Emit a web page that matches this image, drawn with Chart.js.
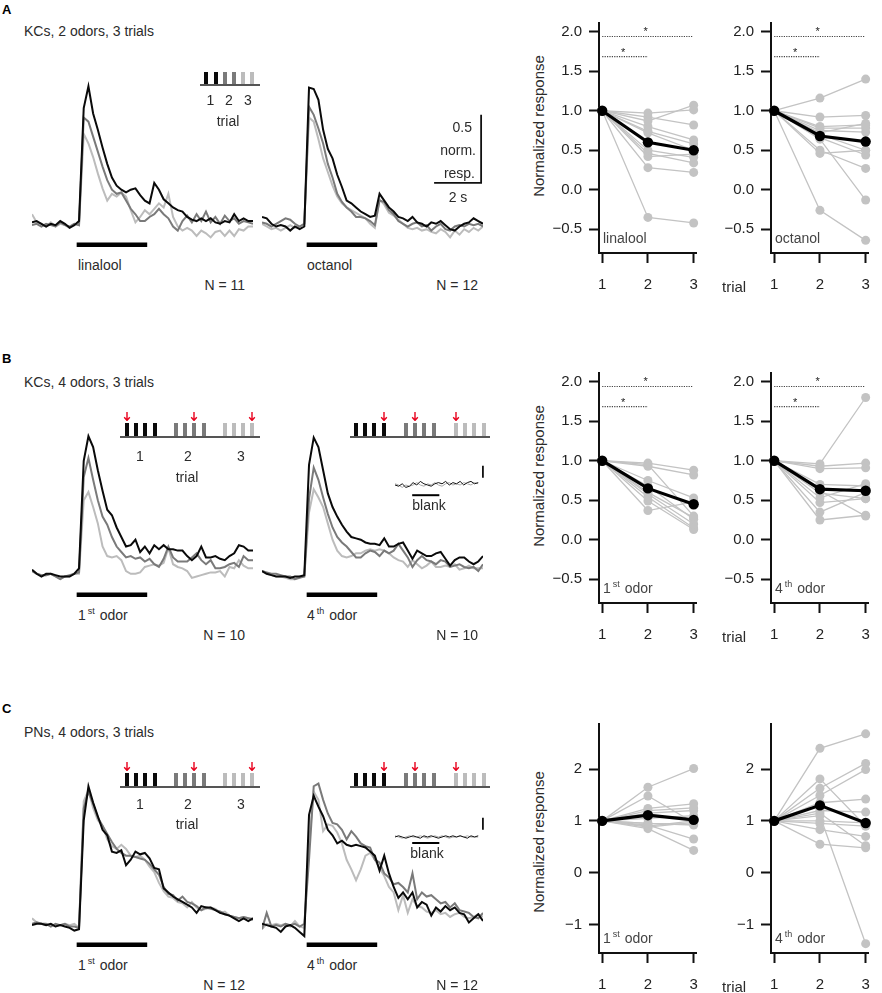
<!DOCTYPE html>
<html>
<head>
<meta charset="utf-8">
<script src="https://cdn.jsdelivr.net/npm/chart.js@4.4.0/dist/chart.umd.min.js"></script>
<style>
  body { margin: 0; background: #fff; }
  #fig { position: relative; width: 882px; height: 993px; overflow: hidden;
         font-family: "Liberation Sans", Arial, sans-serif; color: #2b2b2b; }
  #fig canvas { position: absolute; }
  .t { position: absolute; white-space: nowrap; font-size: 14px; line-height: 1; }
  .t sup { font-size: 9px; vertical-align: 6px; line-height: 0; margin-left: 2px; margin-right: 1px; }
  .bar { position: absolute; }
</style>
</head>
<body>
<div id="fig"></div>
<script>
// time axis of the traces
const timeStep = 0.2; // s per sample
const traceEnd = 9.4;
const odorOn = 1.9;
const odorOff = 4.9;
const insetStep = 0.4;

const trialTicks = [1, 2, 3];
const trialLabels = ["1", "2", "3"];
const yTicksKC = [-0.5, 0, 0.5, 1, 1.5, 2];
const yTicksPN = [-1, 0, 1, 2];
const trial1Value = 1;

// A  KCs, 2 odors, 3 trials (mean traces, trial 1 / 2 / 3)
const linaloolTrial1 = [0.01, 0.02, 0.00, -0.02, 0.00, -0.01, 0.02, 0.00, -0.03, -0.01,
  0.02, 0.85, 1.01, 0.81, 0.69, 0.56, 0.44, 0.34, 0.28, 0.25,
  0.23, 0.25, 0.26, 0.21, 0.17, 0.15, 0.30, 0.25, 0.18, 0.15,
  0.12, 0.10, 0.09, 0.05, 0.03, 0.02, 0.04, 0.02, 0.04, 0.01,
  0.00, 0.02, 0.01, 0.07, 0.02, 0.04, 0.02, 0.02];
const linaloolTrial2 = [-0.01, 0.00, -0.02, 0.00, -0.01, -0.02, 0.01, -0.01, -0.02, 0.00,
  -0.01, 0.78, 0.75, 0.64, 0.53, 0.42, 0.32, 0.25, 0.22, 0.23,
  0.17, 0.11, 0.07, 0.02, 0.02, 0.05, 0.07, 0.11, 0.07, 0.04,
  -0.02, -0.05, 0.02, 0.06, 0.01, 0.07, 0.02, 0.09, 0.01, 0.05,
  0.00, 0.06, 0.02, 0.04, 0.00, 0.02, 0.01, 0.00];
const linaloolTrial3 = [0.07, 0.01, 0.00, -0.02, 0.01, -0.02, 0.00, -0.01, -0.03, 0.00,
  -0.01, 0.66, 0.59, 0.49, 0.37, 0.26, 0.17, 0.22, 0.20, 0.23,
  0.20, 0.10, 0.01, 0.05, 0.10, 0.07, 0.11, 0.15, 0.12, 0.22,
  0.05, -0.02, -0.05, -0.03, -0.05, -0.09, -0.05, -0.07, -0.10, -0.06,
  -0.05, -0.09, -0.05, -0.09, -0.04, -0.05, -0.02, -0.02];
const octanolTrial1 = [0.05, 0.04, 0.00, -0.02, -0.01, -0.02, -0.05, -0.02, -0.04, -0.02,
  1.00, 0.99, 0.91, 0.69, 0.55, 0.48, 0.36, 0.27, 0.17, 0.15,
  0.12, 0.09, 0.07, 0.05, 0.06, 0.22, 0.17, 0.12, 0.09, 0.05,
  0.04, 0.02, 0.05, 0.01, 0.00, -0.02, 0.01, 0.00, 0.02, -0.01,
  -0.04, -0.05, -0.02, 0.00, 0.01, 0.04, 0.02, 0.00];
const octanolTrial2 = [0.01, 0.00, -0.02, 0.00, 0.02, 0.04, 0.03, 0.00, -0.02, 0.00,
  0.86, 0.80, 0.70, 0.59, 0.44, 0.34, 0.22, 0.16, 0.12, 0.09,
  0.05, 0.05, 0.04, 0.02, -0.01, 0.17, 0.16, 0.10, 0.07, 0.02,
  0.00, -0.02, 0.00, 0.01, -0.02, -0.01, -0.05, -0.02, 0.00, -0.04,
  -0.05, -0.02, -0.01, -0.02, 0.00, -0.01, 0.00, -0.02];
const octanolTrial3 = [0.00, -0.02, -0.04, -0.03, -0.05, -0.03, -0.01, -0.03, -0.02, 0.00,
  0.78, 0.75, 0.62, 0.48, 0.38, 0.28, 0.20, 0.15, 0.12, 0.10,
  0.08, 0.06, 0.04, 0.00, -0.03, 0.18, 0.14, 0.08, 0.06, 0.03,
  0.00, -0.03, -0.04, -0.03, -0.05, -0.04, -0.06, -0.07, -0.04, -0.06,
  -0.10, -0.05, -0.08, -0.04, -0.06, -0.03, -0.05, -0.02];

// B  KCs, 4 odors, 3 trials
const kcFirstTrial1 = [0.03, 0.00, -0.02, 0.00, 0.00, -0.01, -0.02, -0.02, -0.02, 0.00,
  0.04, 0.83, 1.01, 0.93, 0.76, 0.61, 0.47, 0.43, 0.34, 0.27,
  0.20, 0.21, 0.25, 0.16, 0.20, 0.15, 0.21, 0.18, 0.21, 0.18,
  0.18, 0.17, 0.17, 0.13, 0.10, 0.13, 0.20, 0.12, 0.12, 0.13,
  0.11, 0.10, 0.13, 0.15, 0.21, 0.20, 0.17, 0.17];
const kcFirstTrial2 = [0.02, 0.00, -0.01, -0.01, 0.00, -0.02, -0.04, -0.02, -0.01, 0.00,
  0.01, 0.71, 0.85, 0.69, 0.54, 0.42, 0.36, 0.27, 0.20, 0.16,
  0.12, 0.13, 0.11, 0.12, 0.09, 0.11, 0.07, 0.05, 0.11, 0.20,
  0.12, 0.09, 0.09, 0.09, 0.12, 0.15, 0.10, 0.07, 0.10, 0.04,
  0.04, 0.05, 0.07, 0.08, 0.05, 0.13, 0.10, 0.10];
const kcFirstTrial3 = [0.03, 0.00, -0.01, -0.01, 0.00, -0.02, -0.04, -0.02, -0.02, 0.00,
  0.00, 0.54, 0.60, 0.49, 0.37, 0.20, 0.13, 0.12, 0.13, 0.10,
  0.02, 0.00, 0.00, 0.01, 0.05, 0.06, 0.07, 0.06, 0.08, 0.19,
  0.07, 0.05, 0.04, 0.02, -0.03, -0.02, -0.01, 0.00, 0.01, 0.01,
  0.02, -0.02, 0.05, 0.04, 0.10, 0.06, 0.04, 0.04];
const kcFourthTrial1 = [0.02, 0.00, -0.01, -0.02, -0.02, -0.02, -0.03, -0.02, -0.02, -0.01,
  0.80, 1.00, 0.93, 0.76, 0.59, 0.49, 0.42, 0.36, 0.31, 0.27,
  0.26, 0.25, 0.23, 0.22, 0.22, 0.21, 0.26, 0.20, 0.20, 0.22,
  0.23, 0.17, 0.11, 0.17, 0.15, 0.13, 0.13, 0.15, 0.16, 0.11,
  0.06, 0.10, 0.12, 0.12, 0.09, 0.07, 0.09, 0.13];
const kcFourthTrial2 = [0.02, 0.01, 0.00, 0.00, -0.01, -0.02, -0.02, -0.04, -0.03, -0.02,
  0.55, 0.78, 0.69, 0.56, 0.44, 0.34, 0.27, 0.23, 0.20, 0.16,
  0.12, 0.12, 0.15, 0.17, 0.16, 0.13, 0.17, 0.15, 0.17, 0.22,
  0.17, 0.12, 0.05, 0.10, 0.13, 0.10, 0.09, 0.07, 0.10, 0.09,
  0.05, 0.06, 0.07, 0.05, 0.04, 0.05, 0.02, 0.07];
const kcFourthTrial3 = [0.02, 0.00, -0.01, -0.02, -0.02, -0.03, -0.04, -0.04, -0.02, -0.02,
  0.45, 0.62, 0.56, 0.49, 0.37, 0.25, 0.17, 0.13, 0.12, 0.13,
  0.15, 0.15, 0.17, 0.18, 0.17, 0.18, 0.17, 0.15, 0.12, 0.10,
  0.09, 0.05, 0.10, 0.07, 0.04, 0.06, 0.09, 0.05, 0.05, 0.06,
  0.05, 0.07, 0.03, 0.04, 0.06, 0.04, 0.04, 0.04];

// C  PNs, 4 odors, 3 trials
const pnFirstTrial1 = [-0.01, 0.00, 0.00, -0.01, 0.00, -0.02, -0.01, -0.02, -0.03, -0.05,
  -0.04, 0.76, 1.01, 0.89, 0.79, 0.69, 0.65, 0.53, 0.52, 0.54,
  0.43, 0.47, 0.53, 0.51, 0.52, 0.48, 0.41, 0.40, 0.26, 0.23,
  0.20, 0.18, 0.16, 0.14, 0.12, 0.08, 0.13, 0.12, 0.12, 0.10,
  0.08, 0.07, 0.06, 0.04, 0.02, 0.04, 0.02, 0.04];
const pnFirstTrial2 = [0.00, 0.01, 0.00, 0.00, -0.02, 0.00, -0.01, 0.00, -0.02, -0.02,
  -0.03, 0.85, 0.97, 0.88, 0.78, 0.72, 0.66, 0.60, 0.55, 0.52,
  0.50, 0.50, 0.49, 0.48, 0.47, 0.44, 0.40, 0.36, 0.27, 0.22,
  0.21, 0.17, 0.20, 0.16, 0.15, 0.13, 0.10, 0.12, 0.11, 0.10,
  0.09, 0.07, 0.06, 0.05, 0.04, 0.05, 0.04, 0.03];
const pnFirstTrial3 = [0.04, 0.01, 0.00, -0.01, 0.00, -0.02, -0.01, 0.00, -0.01, 0.00,
  -0.03, 0.90, 0.98, 0.85, 0.76, 0.72, 0.62, 0.57, 0.55, 0.58,
  0.55, 0.50, 0.49, 0.50, 0.47, 0.42, 0.38, 0.30, 0.24, 0.20,
  0.19, 0.16, 0.15, 0.12, 0.16, 0.12, 0.10, 0.11, 0.12, 0.11,
  0.08, 0.09, 0.06, 0.05, 0.04, 0.05, 0.04, 0.04];
const pnFourthTrial1 = [0.00, -0.01, -0.02, -0.03, -0.06, -0.02, -0.01, -0.03, -0.06, -0.09,
  0.80, 0.94, 0.86, 0.79, 0.69, 0.65, 0.59, 0.61, 0.58, 0.57,
  0.58, 0.57, 0.56, 0.53, 0.50, 0.39, 0.50, 0.37, 0.27, 0.19,
  0.23, 0.18, 0.23, 0.12, 0.16, 0.14, 0.06, 0.12, 0.09, 0.13,
  0.10, 0.12, 0.08, 0.07, 0.01, 0.04, 0.07, 0.02];
const pnFourthTrial2 = [-0.04, 0.08, -0.02, -0.01, -0.02, 0.00, -0.01, 0.00, -0.02, 0.00,
  0.47, 1.01, 1.03, 0.91, 0.81, 0.74, 0.73, 0.69, 0.62, 0.68,
  0.64, 0.59, 0.57, 0.56, 0.47, 0.45, 0.37, 0.34, 0.29, 0.30,
  0.27, 0.23, 0.37, 0.18, 0.23, 0.20, 0.21, 0.18, 0.15, 0.16,
  0.12, 0.15, 0.10, 0.09, 0.08, 0.05, 0.04, 0.08];
const pnFourthTrial3 = [-0.04, 0.00, -0.01, 0.00, -0.01, 0.00, -0.02, 0.02, -0.02, -0.03,
  0.60, 0.97, 0.91, 0.68, 0.73, 0.72, 0.67, 0.59, 0.47, 0.40,
  0.32, 0.40, 0.50, 0.52, 0.47, 0.41, 0.35, 0.27, 0.23, 0.10,
  0.21, 0.08, 0.18, 0.13, 0.12, 0.09, 0.08, 0.10, 0.07, 0.08,
  0.05, 0.07, 0.08, 0.05, 0.04, 0.05, 0.07, 0.05];

// blank (no odor) insets
const kcBlankA = [0.00, -0.01, 0.01, -0.02, -0.01, 0.02, 0.00, 0.03, 0.01, 0.00, -0.01, 0.01,
  0.02, 0.01, 0.03, 0.00, 0.02, 0.01, 0.03, 0.00, 0.02, 0.03, 0.01, 0.02];
const kcBlankB = [0.01, 0.00, -0.02, 0.00, -0.01, 0.00, 0.02, 0.00, -0.01, 0.01, 0.00, 0.02,
  0.00, -0.01, 0.01, 0.02, 0.00, 0.01, 0.00, 0.02, 0.01, 0.00, 0.02, 0.01];
const pnBlankA = [0.00, 0.01, 0.00, -0.01, 0.00, 0.01, 0.00, -0.01, 0.01, 0.00, 0.01, 0.00,
  -0.01, 0.00, 0.01, 0.00, 0.01, 0.00, 0.01, 0.00, -0.01, 0.01, 0.00, 0.01];
const pnBlankB = [0.01, 0.00, -0.01, 0.00, 0.01, 0.00, 0.00, 0.01, 0.00, -0.01, 0.00, 0.01,
  0.00, 0.01, 0.00, -0.01, 0.00, 0.00, 0.01, 0.00, 0.01, 0.00, 0.00, 0.00];

// normalized response per fly, trials 2 and 3 (trial 1 = 1)
const linaloolResp2 = [0.97, 0.87, 0.92, 0.80, 0.74, 0.72, 0.50, 0.46, 0.42, 0.28, -0.35];
const linaloolResp3 = [1.01, 1.07, 0.82, 0.63, 0.58, 0.50, 0.41, 0.34, 0.45, 0.22, -0.42];
const linaloolMean = [1, 0.60, 0.50];
const octanolResp2 = [1.16, 0.92, 0.80, 0.78, 0.75, 0.72, 0.70, 0.66, 0.64, 0.50, 0.46, -0.26];
const octanolResp3 = [1.40, 0.94, 0.82, 0.78, 0.73, 0.84, 0.50, 0.44, -0.13, 0.27, 0.50, -0.64];
const octanolMean = [1, 0.68, 0.61];
const kcFirstResp2 = [0.97, 0.93, 0.95, 0.75, 0.68, 0.60, 0.58, 0.54, 0.49, 0.37];
const kcFirstResp3 = [0.88, 0.82, 0.30, 0.53, 0.26, 0.28, 0.20, 0.15, 0.13, 0.48];
const kcFirstMean = [1, 0.65, 0.45];
const kcFourthResp2 = [0.96, 0.93, 0.90, 0.70, 0.62, 0.59, 0.53, 0.47, 0.35, 0.25];
const kcFourthResp3 = [1.80, 0.97, 0.91, 0.68, 0.30, 0.52, 0.71, 0.52, 0.60, 0.31];
const kcFourthMean = [1, 0.64, 0.62];
const pnFirstResp2 = [1.65, 1.48, 1.24, 1.20, 1.15, 1.05, 0.95, 0.92, 0.90, 0.88, 0.85, 0.95];
const pnFirstResp3 = [2.01, 0.97, 1.33, 1.25, 1.20, 1.10, 0.93, 0.65, 1.00, 0.97, 0.43, 0.92];
const pnFirstMean = [1, 1.11, 1.02];
const pnFourthResp2 = [2.40, 1.81, 1.63, 1.49, 1.35, 1.20, 1.10, 1.00, 0.95, 0.83, 0.55, 1.15];
const pnFourthResp3 = [2.68, 0.90, 2.11, 1.99, 1.42, 1.17, -1.37, 0.96, 0.90, 0.70, 0.48, 0.52];
const pnFourthMean = [1, 1.30, 0.96];

// significance brackets (KC panels)
const kcSignif = [
  { from: 1, to: 2.97, y: 1.94, star: 1.95 },
  { from: 1, to: 2.0, y: 1.685, star: 1.46 },
];

// stimulus schematic: which pulse of each trial is the odor shown
const firstOdorArrows = [[0, 0], [1, 2], [2, 3]];
const fourthOdorArrows = [[0, 3], [1, 1], [2, 0]];

const traceColors = ["#0a0a0a", "#7a7a7a", "#bcbcbc"];
const flyGray = "#c3c3c3";

Chart.defaults.font.family = '"Liberation Sans", Arial, sans-serif';
Chart.defaults.font.size = 15;
Chart.defaults.color = "#222";

const fig = document.getElementById("fig");

function addCanvas(x, y, w, h) {
  const c = document.createElement("canvas");
  c.width = w;
  c.height = h;
  c.style.left = x + "px";
  c.style.top = y + "px";
  c.style.width = w + "px";
  c.style.height = h + "px";
  fig.appendChild(c);
  return c;
}

function label(html, x, y, opt = {}) {
  const d = document.createElement("div");
  d.className = "t";
  d.innerHTML = html;
  d.style.left = x + "px";
  d.style.top = y + "px";
  const ax = { l: "0", c: "-50%", r: "-100%" }[opt.align || "l"];
  d.style.transform = `translate(${ax},-50%)` + (opt.rotate ? ` rotate(${opt.rotate}deg)` : "");
  if (opt.size) d.style.fontSize = opt.size + "px";
  if (opt.bold) d.style.fontWeight = "bold";
  if (opt.color) d.style.color = opt.color;
  fig.appendChild(d);
}

function box(x, y, w, h, color) {
  const d = document.createElement("div");
  d.className = "bar";
  d.style.left = x + "px";
  d.style.top = y + "px";
  d.style.width = w + "px";
  d.style.height = h + "px";
  d.style.background = color;
  fig.appendChild(d);
}

function arrow(x, y) {
  fig.insertAdjacentHTML("beforeend",
    `<svg style="position:absolute;left:${x - 4}px;top:${y}px" width="8" height="9">` +
    `<path d="M4 0V8M1.2 5.2L4 8.4L6.8 5.2" stroke="#e8001c" stroke-width="1.4" fill="none"/></svg>`);
}

// extra marks drawn with the chart's own scales
function marks(cfg) {
  return {
    id: "marks",
    afterDatasetsDraw(chart) {
      const { ctx } = chart;
      const x = chart.scales.x, y = chart.scales.y;
      ctx.save();
      ctx.lineCap = "butt";
      if (cfg.stim) {
        ctx.strokeStyle = "#000";
        ctx.lineWidth = cfg.stim.width;
        ctx.beginPath();
        ctx.moveTo(x.getPixelForValue(cfg.stim.on), y.getPixelForValue(cfg.stim.y));
        ctx.lineTo(x.getPixelForValue(cfg.stim.off), y.getPixelForValue(cfg.stim.y));
        ctx.stroke();
      }
      if (cfg.scaleBar) {
        const s = cfg.scaleBar;
        ctx.strokeStyle = "#111";
        ctx.lineWidth = 1.8;
        ctx.beginPath();
        if (s.dt) ctx.moveTo(x.getPixelForValue(s.t - s.dt), y.getPixelForValue(s.y0));
        else ctx.moveTo(x.getPixelForValue(s.t), y.getPixelForValue(s.y0));
        ctx.lineTo(x.getPixelForValue(s.t), y.getPixelForValue(s.y0));
        ctx.lineTo(x.getPixelForValue(s.t), y.getPixelForValue(s.y0 + s.dy));
        ctx.stroke();
      }
      if (cfg.signif) {
        cfg.signif.forEach(b => {
          const py = y.getPixelForValue(b.y);
          ctx.strokeStyle = "#444";
          ctx.lineWidth = 1.1;
          ctx.setLineDash([1.2, 1.2]);
          ctx.beginPath();
          ctx.moveTo(x.getPixelForValue(b.from), py);
          ctx.lineTo(x.getPixelForValue(b.to), py);
          ctx.stroke();
          ctx.setLineDash([]);
          ctx.fillStyle = "#222";
          ctx.font = '11px "Liberation Sans", Arial, sans-serif';
          ctx.textAlign = "center";
          ctx.textBaseline = "alphabetic";
          ctx.fillText("*", x.getPixelForValue(b.star), py - 1);
        });
      }
      ctx.restore();
    },
  };
}

function traceChart(left, top, traces, extra) {
  const cv = addCanvas(left, top, 221, 177);
  new Chart(cv, {
    type: "line",
    data: {
      datasets: traces.map((vals, k) => ({
        data: vals.map((v, i) => ({ x: i * timeStep, y: v })),
        borderColor: traceColors[k],
        borderWidth: 2,
        pointRadius: 0,
        tension: 0,
      })),
    },
    options: {
      animation: false,
      responsive: false,
      events: [],
      layout: { padding: 0 },
      scales: {
        x: { type: "linear", display: false, min: 0, max: traceEnd },
        y: { display: false, min: -0.2, max: 1.1 },
      },
      plugins: { legend: { display: false }, tooltip: { enabled: false } },
    },
    plugins: [marks(Object.assign({ stim: { on: odorOn, off: odorOff, y: -0.155, width: 4.5 } }, extra || {}))],
  });
}

function blankInset(left, top, a, b, barY) {
  const cv = addCanvas(left, top, 89, 42);
  new Chart(cv, {
    type: "line",
    data: {
      datasets: [a, b].map((vals, k) => ({
        data: vals.map((v, i) => ({ x: i * insetStep, y: v })),
        borderColor: k ? "#a8a8a8" : "#111",
        borderWidth: 1,
        pointRadius: 0,
      })),
    },
    options: {
      animation: false,
      responsive: false,
      events: [],
      layout: { padding: 0 },
      scales: {
        x: { type: "linear", display: false, min: 0, max: 9.84 },
        y: { display: false, min: -0.15, max: 0.2 },
      },
      plugins: { legend: { display: false }, tooltip: { enabled: false } },
    },
    plugins: [marks({
      stim: { on: odorOn, off: odorOff, y: barY, width: 2 },
      scaleBar: { t: 9.72, y0: 0.06, dy: 0.1 },
    })],
  });
}

function pairChart(areaLeft, areaTop, areaH, resp2, resp3, mean, yMin, yMax, yTicks, digits, signif) {
  const cv = addCanvas(areaLeft - 50, areaTop - 8, 162, areaH + 53);
  const flies = resp2.map((v, i) => ({
    data: [{ x: 1, y: trial1Value }, { x: 2, y: v }, { x: 3, y: resp3[i] }],
    borderColor: flyGray,
    backgroundColor: flyGray,
    borderWidth: 1.3,
    pointRadius: 4.5,
    pointBorderWidth: 0,
    clip: false,
  }));
  const avg = {
    data: mean.map((v, i) => ({ x: trialTicks[i], y: v })),
    borderColor: "#000",
    backgroundColor: "#000",
    borderWidth: 3.2,
    pointRadius: 5.2,
    pointBorderWidth: 0,
    clip: false,
  };
  const axis = {
    grid: { drawOnChartArea: false, tickLength: 10, tickWidth: 2, tickColor: "#111" },
    border: { display: true, color: "#111", width: 2 },
  };
  new Chart(cv, {
    type: "line",
    data: { datasets: [avg, ...flies] },
    options: {
      animation: false,
      responsive: false,
      events: [],
      layout: { padding: { top: 8, right: 2, left: 0, bottom: 0 } },
      scales: {
        x: Object.assign({}, axis, {
          type: "linear", min: 0.93, max: 3.07,
          afterBuildTicks: s => { s.ticks = trialTicks.map(v => ({ value: v })); },
          afterFit: s => { s.height = 45; },
          ticks: { padding: 13, color: "#222", callback: v => trialLabels[trialTicks.indexOf(v)] },
        }),
        y: Object.assign({}, axis, {
          min: yMin, max: yMax,
          afterBuildTicks: s => { s.ticks = yTicks.map(v => ({ value: v })); },
          afterFit: s => { s.width = 50; },
          ticks: {
            padding: 7, color: "#222",
            callback: v => (digits ? v.toFixed(1) : String(v)).replace("-", "\u2212"),
          },
        }),
      },
      plugins: { legend: { display: false }, tooltip: { enabled: false } },
    },
    plugins: signif ? [marks({ signif })] : [],
  });
}

function schematic(x0, groupPitch, barsPerTrial, barTop, baseY, lineFrom, lineTo, arrows) {
  box(lineFrom, baseY, lineTo - lineFrom, 1.5, "#555");
  for (let t = 0; t < 3; t++) {
    for (let b = 0; b < barsPerTrial; b++) {
      box(x0 + t * groupPitch + b * 9.2, barTop, 4, baseY - barTop, traceColors[t]);
    }
  }
  (arrows || []).forEach(([t, b]) => arrow(x0 + t * groupPitch + b * 9.2 + 2, barTop - 11.5));
}

// ---------- row A ----------
label("A", 2, 9, { bold: true, size: 13, color: "#000" });
label("KCs, 2 odors, 3 trials", 24, 31);
traceChart(32, 74, [linaloolTrial1, linaloolTrial2, linaloolTrial3]);
traceChart(262, 74, [octanolTrial1, octanolTrial2, octanolTrial3],
  { scaleBar: { t: 9.32, y0: 0.30, dy: 0.5, dt: 2 } });
label("linalool", 78, 265);
label("octanol", 307, 265);
label("N = 11", 245, 285, { align: "r" });
label("N = 12", 478, 285, { align: "r" });
schematic(204.3, 18.2, 2, 72, 84, 200, 260);
[210.5, 229, 248].forEach((x, i) => label(trialLabels[i], x, 100, { align: "c" }));
label("trial", 228, 121, { align: "c" });
label("0.5", 472, 127, { align: "r" });
label("norm.", 476, 150, { align: "r" });
label("resp.", 475, 173, { align: "r" });
label("2 s", 458, 197, { align: "c" });

pairChart(599, 15, 238, linaloolResp2, linaloolResp3, linaloolMean, -0.80, 2.11, yTicksKC, 1, kcSignif);
pairChart(771, 15, 238, octanolResp2, octanolResp3, octanolMean, -0.80, 2.11, yTicksKC, 1, kcSignif);
label("Normalized response", 538, 126, { align: "c", rotate: -90, size: 15 });
label("linalool", 603, 238, { color: "#444" });
label("octanol", 775, 238, { color: "#444" });
label("trial", 722, 286, { size: 15 });

// ---------- row B ----------
label("B", 2, 358, { bold: true, size: 13, color: "#000" });
label("KCs, 4 odors, 3 trials", 24, 382);
traceChart(32, 424, [kcFirstTrial1, kcFirstTrial2, kcFirstTrial3]);
traceChart(262, 424, [kcFourthTrial1, kcFourthTrial2, kcFourthTrial3]);
blankInset(395, 461, kcBlankA, kcBlankB, -0.085);
label("blank", 429, 505, { align: "c" });
label("1<sup>st</sup> odor", 78, 615);
label("4<sup>th</sup> odor", 307, 615);
label("N = 10", 245, 635, { align: "r" });
label("N = 10", 478, 635, { align: "r" });
schematic(125, 48.9, 4, 423.3, 436, 120, 260, firstOdorArrows);
schematic(354, 50, 4, 423.3, 436, 350, 490, fourthOdorArrows);
[140, 188, 241].forEach((x, i) => label(trialLabels[i], x, 456, { align: "c" }));
label("trial", 187, 477, { align: "c" });

pairChart(599, 365, 238, kcFirstResp2, kcFirstResp3, kcFirstMean, -0.80, 2.11, yTicksKC, 1, kcSignif);
pairChart(771, 365, 238, kcFourthResp2, kcFourthResp3, kcFourthMean, -0.80, 2.11, yTicksKC, 1, kcSignif);
label("Normalized response", 538, 476, { align: "c", rotate: -90, size: 15 });
label("1<sup>st</sup> odor", 603, 588, { color: "#444" });
label("4<sup>th</sup> odor", 775, 588, { color: "#444" });
label("trial", 722, 636, { size: 15 });

// ---------- row C ----------
label("C", 2, 708, { bold: true, size: 13, color: "#000" });
label("PNs, 4 odors, 3 trials", 24, 732);
traceChart(32, 774, [pnFirstTrial1, pnFirstTrial2, pnFirstTrial3]);
traceChart(262, 774, [pnFourthTrial1, pnFourthTrial2, pnFourthTrial3]);
blankInset(395, 813, pnBlankA, pnBlankB, -0.05);
label("blank", 427, 853, { align: "c" });
label("1<sup>st</sup> odor", 78, 965);
label("4<sup>th</sup> odor", 307, 965);
label("N = 12", 245, 985, { align: "r" });
label("N = 12", 478, 985, { align: "r" });
schematic(125, 48.9, 4, 773.3, 786, 120, 260, firstOdorArrows);
schematic(354, 50, 4, 773.3, 786, 350, 490, fourthOdorArrows);
[140, 188, 241].forEach((x, i) => label(trialLabels[i], x, 804, { align: "c" }));
label("trial", 187, 824, { align: "c" });

pairChart(599, 716, 237, pnFirstResp2, pnFirstResp3, pnFirstMean, -1.55, 2.87, yTicksPN, 0);
pairChart(771, 716, 237, pnFourthResp2, pnFourthResp3, pnFourthMean, -1.55, 2.87, yTicksPN, 0);
label("Normalized response", 538, 842, { align: "c", rotate: -90, size: 15 });
label("1<sup>st</sup> odor", 603, 938, { color: "#444" });
label("4<sup>th</sup> odor", 775, 938, { color: "#444" });
label("trial", 722, 986, { size: 15 });
</script>
</body>
</html>
